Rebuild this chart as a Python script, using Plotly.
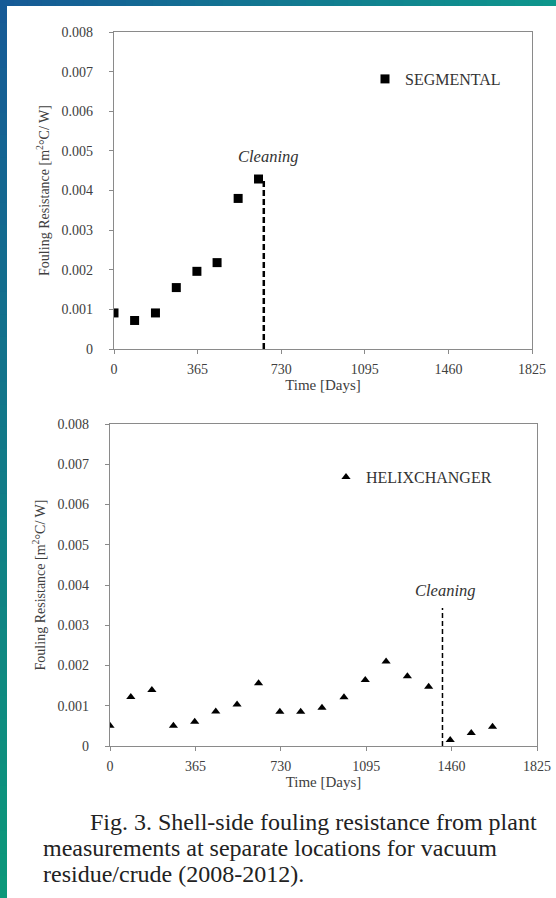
import plotly.graph_objects as go

# ---------------- data ----------------
seg_days = [0, 90, 181, 272, 362, 450, 542, 631]
seg_rf = [0.00091, 0.00072, 0.00091, 0.00155, 0.00196, 0.00218, 0.0038, 0.00429]

helix_days = [0, 89, 179, 271, 362, 452, 543, 635, 726, 815, 906, 1000,
              1091, 1180, 1271, 1362, 1454, 1544, 1635]
helix_rf = [0.0005, 0.00122, 0.00139, 0.0005, 0.0006, 0.00086, 0.00103, 0.00156,
            0.00085, 0.00085, 0.00095, 0.00121, 0.00164, 0.0021, 0.00173, 0.00147,
            0.00015, 0.00032, 0.00048]

seg_clean_x = [654, 654]
seg_clean_y = [0, 0.00425]
helix_clean_x = [1421, 1421]
helix_clean_y = [0, 0.00343]

x_ticks = [0, 365, 730, 1095, 1460, 1825]
x_ticktext = ["0", "365", "730", "1095", "1460", "1825"]
y_ticks = [0, 0.001, 0.002, 0.003, 0.004, 0.005, 0.006, 0.007, 0.008]
y_ticktext = ["0", "0.001", "0.002", "0.003", "0.004", "0.005", "0.006", "0.007", "0.008"]

caption = [
    "Fig. 3. Shell-side fouling resistance from plant",
    "measurements at separate locations for vacuum",
    "residue/crude (2008-2012).",
]

# ---------------- figure ----------------
W, H = 556, 898
SERIF = "Liberation Serif, Times New Roman, serif"
fig = go.Figure()

fig.add_trace(go.Scatter(x=seg_days, y=seg_rf, mode="markers", name="SEGMENTAL",
                         marker=dict(symbol="square", size=9, color="black"),
                         xaxis="x", yaxis="y", legend="legend"))
fig.add_trace(go.Scatter(x=seg_clean_x, y=seg_clean_y, mode="lines", showlegend=False,
                         line=dict(color="black", width=2.5, dash="6px,3px"),
                         xaxis="x", yaxis="y"))
fig.add_trace(go.Scatter(x=helix_days, y=helix_rf, mode="markers", name="HELIXCHANGER",
                         marker=dict(symbol="triangle-up", size=8, color="black"),
                         xaxis="x2", yaxis="y2", legend="legend2"))
fig.add_trace(go.Scatter(x=helix_clean_x, y=helix_clean_y, mode="lines", showlegend=False,
                         line=dict(color="black", width=1.5, dash="5px,3px"),
                         xaxis="x2", yaxis="y2"))

axis_common = dict(showgrid=False, zeroline=False, showline=True, linecolor="#8a8a8a",
                   linewidth=1.3, mirror=True, ticks="outside", ticklen=4, tickwidth=1,
                   tickcolor="#8a8a8a",
                   tickfont=dict(family=SERIF, size=14, color="#404040"))

xa = dict(axis_common, range=[0, 1825], tickvals=x_ticks, ticktext=x_ticktext,
          ticklabelstandoff=3,
          title=dict(text="Time [Days]", font=dict(family=SERIF, size=15, color="#404040"),
                     standoff=2))
ya = dict(axis_common, range=[0, 0.008], tickvals=y_ticks, ticktext=y_ticktext,
          ticklabelstandoff=13,
          title=dict(text="Fouling Resistance [m<sup>2</sup>°C/ W]",
                     font=dict(family=SERIF, size=14, color="#404040"), standoff=8))

fig.update_layout(
    width=W, height=H,
    margin=dict(l=0, r=0, t=0, b=0, autoexpand=False),
    paper_bgcolor="white", plot_bgcolor="white",
    xaxis=dict(xa, domain=[114 / W, 532 / W], anchor="y", automargin=False),
    yaxis=dict(ya, domain=[1 - 349 / H, 1 - 32 / H], anchor="x", automargin=False),
    xaxis2=dict(xa, domain=[110 / W, 537 / W], anchor="y2", automargin=False),
    yaxis2=dict(ya, domain=[1 - 746 / H, 1 - 424 / H], anchor="x2", automargin=False),
    legend=dict(x=365 / W, y=1 - 79 / H, xanchor="left", yanchor="middle",
                bgcolor="rgba(0,0,0,0)", itemwidth=30,
                font=dict(family=SERIF, size=16, color="#333")),
    legend2=dict(x=326 / W, y=1 - 477 / H, xanchor="left", yanchor="middle",
                 bgcolor="rgba(0,0,0,0)", itemwidth=30,
                 font=dict(family=SERIF, size=16, color="#333")),
    showlegend=True,
)

# Cleaning labels
fig.add_annotation(x=673, y=0.00485, xref="x", yref="y", text="Cleaning", showarrow=False,
                   font=dict(family=SERIF, size=16.5, color="#333", style="italic"))
fig.add_annotation(x=1434, y=0.00386, xref="x2", yref="y2", text="Cleaning", showarrow=False,
                   font=dict(family=SERIF, size=16.5, color="#333", style="italic"))

# Caption
cap_pos = [(88, 822), (41, 848), (41, 874)]
for line, (px, py) in zip(caption, cap_pos):
    fig.add_annotation(x=px / W, y=1 - py / H, xref="paper", yref="paper", text=line,
                       showarrow=False, xanchor="left", yanchor="middle",
                       font=dict(family=SERIF, size=24, color="#222"))

# Decorative gradient frame (top band and left band)
def lerp(c1, c2, t):
    return "rgb(%d,%d,%d)" % tuple(round(a + (b - a) * t) for a, b in zip(c1, c2))

blue = (22, 90, 150)
teal_r = (14, 150, 140)
green_b = (12, 152, 122)
N = 40
for i in range(N):
    t = i / (N - 1)
    fig.add_shape(type="rect", xref="paper", yref="paper", layer="above",
                  x0=i / N, x1=(i + 1) / N + 0.002, y0=1 - 6 / H, y1=1,
                  fillcolor=lerp(blue, teal_r, t), line=dict(width=0))
    fig.add_shape(type="rect", xref="paper", yref="paper", layer="above",
                  x0=0, x1=7 / W, y0=1 - (i + 1) / N - 0.002, y1=1 - i / N,
                  fillcolor=lerp(blue, green_b, t), line=dict(width=0))

fig.write_html("out.html", config={"displayModeBar": False},
               post_script="document.body.style.margin='0';")
